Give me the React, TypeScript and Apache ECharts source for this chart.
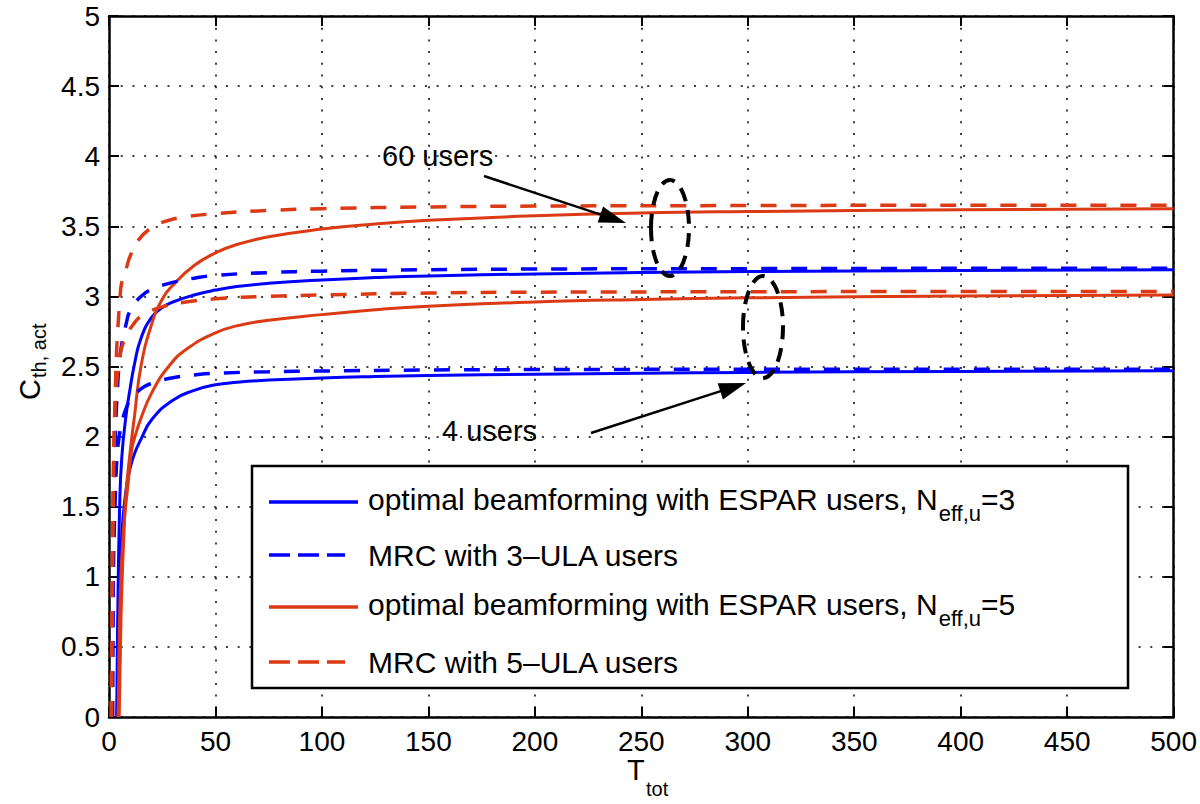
import React, { useEffect, useRef } from 'react';
import * as echarts from 'echarts';

// ---------- data ----------
// optimal beamforming with ESPAR users, N_eff,u=3 — 60 users
const T_ESPAR3_60 = [3.6, 4, 5, 6, 8, 10, 12, 15, 20, 25, 30, 40, 50, 60, 75, 100, 125, 150, 200, 250, 300, 400, 500];
const C_ESPAR3_60 = [0, 0.6, 1.5, 1.85, 2.15, 2.35, 2.52, 2.7, 2.85, 2.92, 2.96, 3.01, 3.045, 3.07, 3.093, 3.117, 3.134, 3.146, 3.16, 3.17, 3.177, 3.185, 3.19];
// optimal beamforming with ESPAR users, N_eff,u=3 — 4 users
const T_ESPAR3_4 = [3.8, 4.5, 5, 6, 8, 10, 12, 15, 20, 30, 40, 50, 60, 75, 100, 125, 150, 200, 250, 300, 400, 500];
const C_ESPAR3_4 = [0, 0.6, 0.95, 1.3, 1.62, 1.78, 1.88, 1.98, 2.12, 2.26, 2.33, 2.37, 2.387, 2.403, 2.418, 2.428, 2.435, 2.445, 2.452, 2.458, 2.465, 2.47];
// MRC with 3-ULA users — 60 users
const T_MRC3_60 = [1.6, 2, 3, 4, 5, 6, 8, 10, 15, 20, 30, 40, 50, 75, 100, 150, 200, 300, 400, 500];
const C_MRC3_60 = [0, 1.2, 2.0, 2.35, 2.55, 2.66, 2.8, 2.9, 3.0, 3.05, 3.1, 3.13, 3.15, 3.17, 3.18, 3.19, 3.195, 3.198, 3.2, 3.2];
// MRC with 3-ULA users — 4 users
const T_MRC3_4 = [1.7, 2, 3, 4, 5, 6, 8, 10, 15, 20, 30, 40, 50, 75, 100, 150, 200, 300, 400, 500];
const C_MRC3_4 = [0, 0.9, 1.6, 1.9, 2.02, 2.1, 2.2, 2.26, 2.34, 2.38, 2.42, 2.44, 2.452, 2.462, 2.468, 2.475, 2.478, 2.48, 2.48, 2.48];
// optimal beamforming with ESPAR users, N_eff,u=5 — 60 users
const T_ESPAR5_60 = [4.8, 5.5, 6, 7, 8, 10, 12, 15, 20, 25, 30, 40, 50, 60, 75, 100, 125, 150, 200, 250, 300, 400, 500];
const C_ESPAR5_60 = [0, 0.6, 0.9, 1.3, 1.6, 1.9, 2.15, 2.5, 2.8, 2.98, 3.08, 3.22, 3.31, 3.37, 3.425, 3.48, 3.517, 3.543, 3.575, 3.595, 3.605, 3.618, 3.625];
// optimal beamforming with ESPAR users, N_eff,u=5 — 4 users
const T_ESPAR5_4 = [4.2, 4.4, 5.2, 6.7, 9, 10.6, 12, 15, 20, 28, 37, 50, 60, 75, 100, 125, 150, 200, 250, 300, 400, 500];
const C_ESPAR5_4 = [0, 0.12, 0.83, 1.31, 1.67, 1.9, 1.99, 2.13, 2.31, 2.5, 2.63, 2.74, 2.79, 2.83, 2.87, 2.905, 2.93, 2.96, 2.978, 2.99, 3.003, 3.01];
// MRC with 5-ULA users — 60 users
const T_MRC5_60 = [1.0, 1.5, 2, 3, 3.6, 4.4, 5.2, 6, 8.3, 10, 13.7, 20, 26, 35, 50, 75, 100, 150, 200, 300, 400, 500];
const C_MRC5_60 = [0, 1.0, 1.7, 2.35, 2.62, 2.83, 3.0, 3.1, 3.21, 3.29, 3.4, 3.49, 3.533, 3.565, 3.59, 3.613, 3.626, 3.638, 3.644, 3.648, 3.65, 3.65];
// MRC with 5-ULA users — 4 users
const T_MRC5_4 = [1.2, 1.6, 2, 2.8, 4, 5, 6.7, 8, 11.4, 15, 20, 26, 34, 50, 75, 100, 150, 200, 300, 400, 500];
const C_MRC5_4 = [0, 0.9, 1.5, 2.2, 2.45, 2.57, 2.67, 2.72, 2.8, 2.86, 2.9, 2.93, 2.955, 2.983, 3.0, 3.01, 3.024, 3.03, 3.033, 3.035, 3.035];

const LEGEND_NAMES = [
  'optimal beamforming with ESPAR users, N_eff,u=3',
  'MRC with 3\u2013ULA users',
  'optimal beamforming with ESPAR users, N_eff,u=5',
  'MRC with 5\u2013ULA users',
];

const BLUE = '#0000FF';
const RED = '#DC3A14';
const FONT = "'Liberation Sans', Arial, Helvetica, sans-serif";
const DASH = [16, 14];

const CURVES = [
  { name: LEGEND_NAMES[0], color: BLUE, dashed: false, t: T_ESPAR3_60, c: C_ESPAR3_60 },
  { name: LEGEND_NAMES[0], color: BLUE, dashed: false, t: T_ESPAR3_4, c: C_ESPAR3_4 },
  { name: LEGEND_NAMES[2], color: RED, dashed: false, t: T_ESPAR5_60, c: C_ESPAR5_60 },
  { name: LEGEND_NAMES[2], color: RED, dashed: false, t: T_ESPAR5_4, c: C_ESPAR5_4 },
  { name: LEGEND_NAMES[1], color: BLUE, dashed: true, t: T_MRC3_60, c: C_MRC3_60 },
  { name: LEGEND_NAMES[1], color: BLUE, dashed: true, t: T_MRC3_4, c: C_MRC3_4 },
  { name: LEGEND_NAMES[3], color: RED, dashed: true, t: T_MRC5_60, c: C_MRC5_60 },
  { name: LEGEND_NAMES[3], color: RED, dashed: true, t: T_MRC5_4, c: C_MRC5_4 },
];

function arrow(x1: number, y1: number, x2: number, y2: number) {
  const dx = x2 - x1, dy = y2 - y1;
  const len = Math.sqrt(dx * dx + dy * dy);
  const ux = dx / len, uy = dy / len;
  const hl = 27, hw = 8.5;
  const bx = x2 - ux * hl, by = y2 - uy * hl;
  const px = -uy * hw, py = ux * hw;
  return [
    { type: 'line', shape: { x1, y1, x2: bx + ux * 2, y2: by + uy * 2 }, style: { stroke: '#000', lineWidth: 2.5 }, z: 100 },
    { type: 'polygon', shape: { points: [[x2, y2], [bx + px, by + py], [bx - px, by - py]] }, style: { fill: '#000' }, z: 100 },
  ];
}

export default function App() {
  const ref = useRef<HTMLDivElement>(null);
  useEffect(() => {
    document.body.style.margin = '0';
    const chart = echarts.init(ref.current!, null, { renderer: 'svg' });

    const axisLine = { show: true, onZero: false, lineStyle: { color: '#000', width: 2.5 } };
    const axisTick = { show: true, inside: true, length: 10, lineStyle: { color: '#000', width: 2 } };
    const gridLine = { show: true, lineStyle: { color: '#000', width: 1.5, type: [2, 9.7] } };
    const label = { color: '#000', fontSize: 28, fontFamily: FONT };

    const legendLinesY = [502, 555, 607, 662];
    const legendGraphics: any[] = [
      { type: 'rect', shape: { x: 252, y: 466, width: 876, height: 222 }, style: { fill: '#fff', stroke: '#000', lineWidth: 2.5 }, z: 90 },
    ];
    const legendStyles = [
      { color: BLUE, dashed: false }, { color: BLUE, dashed: true },
      { color: RED, dashed: false }, { color: RED, dashed: true },
    ];
    legendStyles.forEach((s, i) => {
      const y = legendLinesY[i];
      legendGraphics.push({
        type: 'line',
        shape: { x1: 269, y1: y, x2: s.dashed ? 345 : 358, y2: y },
        style: { stroke: s.color, lineWidth: 3.5, lineDash: s.dashed ? [21, 8] : null },
        z: 91,
      });
      if (i === 0 || i === 2) {
        legendGraphics.push({
          type: 'text', x: 368, y: y - 18, z: 91,
          style: {
            text: `{m|optimal beamforming with ESPAR users, N}{s|eff,u}{m|=${i === 0 ? 3 : 5}}`,
            verticalAlign: 'top',
            rich: {
              m: { fontSize: 30, fontFamily: FONT, lineHeight: 36, verticalAlign: 'top', fill: '#000' },
              s: { fontSize: 22, fontFamily: FONT, lineHeight: 22, verticalAlign: 'top', padding: [18, 0, 0, 1], fill: '#000' },
            },
          },
        });
      } else {
        legendGraphics.push({
          type: 'text', x: 368, y, z: 91,
          style: { text: LEGEND_NAMES[i], fontSize: 30, fontFamily: FONT, verticalAlign: 'middle', fill: '#000' },
        });
      }
    });

    const annotations: any[] = [
      { type: 'text', x: 382, y: 156, z: 100, style: { text: '60 users', fontSize: 29, fontFamily: FONT, verticalAlign: 'middle', fill: '#000' } },
      { type: 'text', x: 442, y: 431, z: 100, style: { text: '4 users', fontSize: 29, fontFamily: FONT, verticalAlign: 'middle', fill: '#000' } },
      ...arrow(484, 176, 626, 223),
      ...arrow(591, 433, 746, 383),
      { type: 'ellipse', shape: { cx: 670, cy: 228, rx: 19, ry: 48 }, style: { fill: 'none', stroke: '#000', lineWidth: 4, lineDash: [14, 9] }, z: 100 },
      { type: 'ellipse', shape: { cx: 763, cy: 327, rx: 20, ry: 51 }, style: { fill: 'none', stroke: '#000', lineWidth: 4, lineDash: [14, 9] }, z: 100 },
      // x axis name T_tot
      { type: 'text', x: 627, y: 770, z: 100, style: { text: 'T', fontSize: 29, fontFamily: FONT, verticalAlign: 'middle', fill: '#000' } },
      { type: 'text', x: 646, y: 789, z: 100, style: { text: 'tot', fontSize: 20, fontFamily: FONT, verticalAlign: 'middle', fill: '#000' } },
      // y axis name C_th, act
      {
        type: 'group', x: 30, y: 400, rotation: Math.PI / 2, z: 100,
        children: [
          { type: 'text', x: 0, y: 0, style: { text: 'C', fontSize: 29, fontFamily: FONT, verticalAlign: 'middle', fill: '#000' } },
          { type: 'text', x: 22, y: 9, style: { text: 'th, act', fontSize: 20, fontFamily: FONT, verticalAlign: 'middle', fill: '#000' } },
        ],
      },
    ];

    chart.setOption({
      animation: false,
      backgroundColor: '#fff',
      grid: { left: 109, right: 24, top: 16, bottom: 87, containLabel: false },
      xAxis: [
        {
          type: 'value', min: 0, max: 500, interval: 50, position: 'bottom',
          axisLine, axisTick, splitLine: gridLine,
          axisLabel: { ...label, margin: 10 },
        },
        {
          type: 'value', min: 0, max: 500, interval: 50, position: 'top',
          axisLine, axisTick, splitLine: { show: false }, axisLabel: { show: false },
        },
      ],
      yAxis: [
        {
          type: 'value', min: 0, max: 5, interval: 0.5, position: 'left',
          axisLine, axisTick, splitLine: gridLine,
          axisLabel: { ...label, margin: 9 },
        },
        {
          type: 'value', min: 0, max: 5, interval: 0.5, position: 'right',
          axisLine, axisTick, splitLine: { show: false }, axisLabel: { show: false },
        },
      ],
      series: CURVES.map((cv, i) => ({
        type: 'line',
        name: cv.name,
        xAxisIndex: 0,
        yAxisIndex: 0,
        data: cv.t.map((t, j) => [t, cv.c[j]]),
        showSymbol: false,
        symbol: 'none',
        smooth: 0.5,
        clip: true,
        z: 10 + i,
        lineStyle: { color: cv.color, width: cv.dashed ? 3.5 : 3, type: cv.dashed ? DASH : 'solid' },
        itemStyle: { color: cv.color },
      })),
      graphic: [...legendGraphics, ...annotations],
    });

    return () => chart.dispose();
  }, []);
  return <div ref={ref} style={{ width: 1200, height: 804, position: 'absolute', left: 0, top: 0 }} />;
}
